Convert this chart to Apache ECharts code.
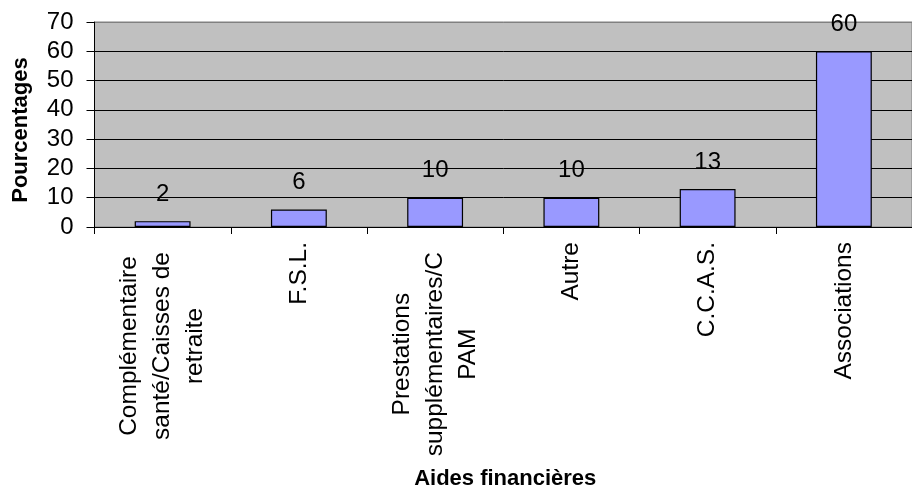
<!DOCTYPE html>
<html>
<head>
<meta charset="utf-8">
<script src="https://cdn.jsdelivr.net/npm/echarts@6/dist/echarts.min.js"></script>
<style>
  html, body { margin: 0; padding: 0; background: #ffffff; }
  #chart { width: 912px; height: 492px; }
</style>
</head>
<body>
<div id="chart"></div>
<script>
// Aides financières : répartition en pourcentages
const categories = [
  'Complémentaire\nsanté/Caisses de\nretraite',
  'F.S.L.',
  'Prestations\nsupplémentaires/C\nPAM',
  'Autre',
  'C.C.A.S.',
  'Associations'
];
const values = [2, 6, 10, 10, 13, 60];
const yTicks = { min: 0, max: 70, interval: 10 };

const FONT = "'Liberation Sans', Arial, sans-serif";

const chart = echarts.init(document.getElementById('chart'), null, { renderer: 'canvas' });

// every tick line is black except the top one, which is the grey frame
const splitColors = [];
for (let v = yTicks.min; v <= yTicks.max; v += yTicks.interval) {
  splitColors.push(v === yTicks.max ? '#808080' : '#000000');
}

chart.setOption({
  animation: false,
  backgroundColor: '#ffffff',
  grid: {
    left: 94.5,
    right: -8.5,
    top: 22,
    bottom: 265,
    show: true,
    backgroundColor: '#C0C0C0',
    borderColor: '#808080',
    borderWidth: 1
  },
  xAxis: {
    type: 'category',
    data: categories,
    name: 'Aides financières',
    nameLocation: 'middle',
    nameGap: 241,
    nameTextStyle: { fontFamily: FONT, fontWeight: 'bold', fontSize: 22, color: '#000', padding: [0, 0, 0, 4] },
    axisLine: { lineStyle: { color: '#000', width: 1 } },
    axisTick: { show: true, length: 7, lineStyle: { color: '#000' } },
    axisLabel: {
      interval: 0,
      rotate: 90,
      margin: 15,
      color: '#000',
      fontFamily: FONT,
      fontSize: 24.5,
      // wrapped names keep each line centred on the others
      formatter: function (v) {
        const lines = v.split('\n');
        const key = lines.length > 1 ? 'm' : 'c';
        return lines.map(function (s) { return '{' + key + '|' + s + '}'; }).join('\n');
      },
      rich: {
        c: { align: 'center', fontFamily: FONT, fontSize: 24.5, lineHeight: 33, color: '#000' },
        m: { align: 'center', fontFamily: FONT, fontSize: 24.5, lineHeight: 33, color: '#000', padding: [0, 10, 0, 0] }
      }
    },
    splitLine: { show: false }
  },
  yAxis: {
    type: 'value',
    min: yTicks.min,
    max: yTicks.max,
    interval: yTicks.interval,
    name: 'Pourcentages',
    nameLocation: 'middle',
    nameGap: 63,
    nameTextStyle: { fontFamily: FONT, fontWeight: 'bold', fontSize: 22, color: '#000', padding: [0, 11, 0, 0] },
    axisLine: { show: true, lineStyle: { color: '#000', width: 1 } },
    axisTick: { show: true, length: 8, lineStyle: { color: '#000' } },
    axisLabel: { margin: 21, color: '#000', fontFamily: FONT, fontSize: 24 },
    splitLine: { show: true, lineStyle: { color: splitColors, width: 1 } }
  },
  series: [{
    type: 'bar',
    data: values,
    barWidth: '41%',
    itemStyle: { color: '#9999FF', borderColor: '#000000', borderWidth: 1.2 },
    label: {
      show: true,
      position: 'top',
      distance: 15,
      color: '#000',
      fontFamily: FONT,
      fontSize: 24
    }
  }]
});
</script>
</body>
</html>
